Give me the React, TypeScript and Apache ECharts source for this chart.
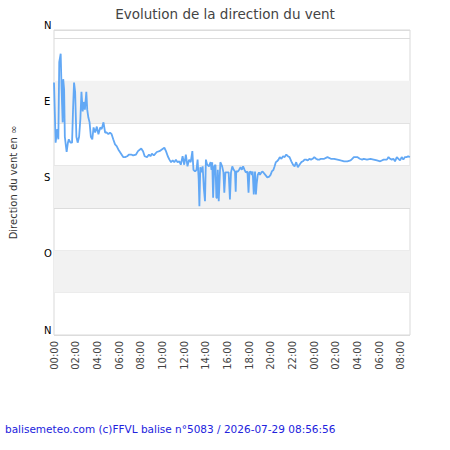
import React, { useEffect, useRef } from "react";
import * as echarts from "echarts";

// Minutes since 00:00 on the first day, and wind direction in degrees
const minutesSinceStart = [
  0, 9, 18, 24, 29, 37, 42, 48, 51, 56, 60, 66, 70, 77, 82, 91, 100, 106, 111, 117,
  124, 131, 139, 146, 152, 159, 164, 171, 179, 184, 190, 197, 204, 212, 219, 228, 237, 246, 256, 264,
  274, 283, 292, 301, 310, 319, 328, 338, 347, 356, 365, 374, 383, 394, 405, 416, 427, 438, 454, 465,
  476, 483, 493, 502, 515, 526, 534, 542, 553, 569, 584, 597, 611, 620, 630, 639, 648, 657, 666, 675,
  684, 694, 702, 712, 721, 730, 739, 748, 757, 766, 772, 781, 789, 795, 801, 805, 810, 817, 823, 830,
  836, 841, 848, 858, 867, 872, 876, 881, 887, 894, 899, 903, 907, 912, 921, 931, 938, 943, 949, 958,
  967, 974, 980, 987, 995, 1002, 1006, 1009, 1018, 1025, 1033, 1040, 1047, 1055, 1062, 1071, 1077, 1082, 1089, 1095,
  1100, 1106, 1113, 1118, 1122, 1128, 1135, 1140, 1149, 1155, 1170, 1181, 1192, 1199, 1206, 1215, 1221, 1228, 1235, 1243,
  1250, 1259, 1268, 1277, 1286, 1295, 1304, 1314, 1323, 1332, 1341, 1350, 1359, 1369, 1378, 1387, 1396, 1405, 1414, 1423,
  1432, 1441, 1451, 1460, 1469, 1478, 1496, 1514, 1533, 1551, 1569, 1587, 1606, 1624, 1642, 1651, 1660, 1679, 1693, 1706,
  1715, 1733, 1752, 1770, 1788, 1806, 1815, 1825, 1843, 1852, 1861, 1870, 1879, 1888, 1898, 1907, 1916, 1925, 1934, 1943,
  1952, 1961, 1970,
];

const directionDeg = [
  298, 227, 243, 231, 322, 332, 290, 251, 302, 290, 234, 223, 216, 227, 231, 227, 227, 270, 298, 287,
  234, 227, 234, 255, 287, 264, 275, 266, 287, 266, 257, 251, 234, 231, 245, 239, 246, 237, 245, 243,
  251, 239, 239, 237, 239, 237, 231, 225, 223, 219, 216, 213, 210, 210, 211, 213, 213, 212, 213, 217,
  219, 220, 217, 211, 210, 213, 211, 214, 212, 216, 217, 219, 221, 217, 211, 207, 204, 206, 204, 207,
  204, 205, 201, 211, 201, 213, 199, 207, 204, 217, 195, 193, 195, 207, 184, 152, 198, 192, 199, 172,
  158, 207, 201, 199, 204, 195, 204, 162, 199, 201, 162, 162, 195, 158, 204, 199, 192, 168, 192, 192,
  192, 160, 192, 199, 195, 193, 169, 193, 193, 195, 198, 195, 199, 195, 192, 193, 168, 192, 193, 189,
  193, 166, 193, 166, 178, 189, 192, 189, 192, 193, 189, 186, 187, 189, 193, 195, 199, 204, 205, 207,
  210, 208, 211, 210, 213, 211, 210, 205, 201, 199, 204, 198, 201, 204, 205, 207, 207, 206, 208, 207,
  208, 210, 208, 207, 207, 208, 208, 210, 208, 208, 207, 206, 205, 205, 206, 208, 210, 210, 208, 207,
  208, 207, 208, 207, 206, 205, 206, 207, 207, 210, 208, 207, 208, 205, 210, 208, 206, 210, 207, 210,
  210, 211, 210,
];

// Compass labels for the direction axis
const compassValues = [0, 90, 180, 270, 360];
const compassLabels = ["N", "O", "S", "E", "N"];

// Shaded horizontal bands (degrees)
const shadedBands = [
  [50, 100],
  [150, 200],
  [250, 300],
];

const xMaxMinutes = 1971;

const pad2 = (n: number) => (n < 10 ? "0" + n : String(n));

export default function App() {
  const ref = useRef<HTMLDivElement>(null);

  useEffect(() => {
    if (!ref.current) return;
    const chart = echarts.init(ref.current, undefined, { renderer: "svg" });
    const font = "'DejaVu Sans', sans-serif";
    const seriesData = minutesSinceStart.map((m, i) => [m, directionDeg[i]]);

    chart.setOption({
      animation: false,
      backgroundColor: "#ffffff",
      title: {
        text: "Evolution de la direction du vent",
        left: "center",
        top: 2,
        textStyle: {
          fontFamily: font,
          fontSize: 13.5,
          fontWeight: "normal",
          color: "#444444",
        },
      },
      grid: {
        left: 50,
        right: 40,
        top: 30,
        bottom: 115,
        show: true,
        borderColor: "#d9d9d9",
        borderWidth: 1,
        backgroundColor: "transparent",
      },
      xAxis: {
        type: "value",
        min: 0,
        max: xMaxMinutes,
        interval: 120,
        axisLine: { show: false },
        axisTick: { show: false },
        splitLine: { show: false },
        axisLabel: {
          rotate: 90,
          margin: 6,
          padding: [6, 0, 0, 0],
          showMaxLabel: false,
          fontFamily: font,
          fontSize: 10,
          color: "#444444",
          formatter: (v: number) => pad2(Math.floor(v / 60) % 24) + ":00",
        },
      },
      yAxis: [
        {
          type: "value",
          min: 0,
          max: 360,
          interval: 50,
          name: "Direction du vent en ∞",
          nameLocation: "middle",
          nameGap: 36,
          nameTextStyle: { fontFamily: font, fontSize: 10, color: "#333333" },
          axisLine: { show: false },
          axisTick: { show: false },
          axisLabel: { show: false },
          splitLine: { show: true, lineStyle: { color: "#dcdcdc", width: 1 } },
        },
        {
          type: "value",
          position: "left",
          min: 0,
          max: 360,
          interval: 90,
          axisLine: { show: false },
          axisTick: { show: false },
          splitLine: { show: false },
          axisLabel: {
            align: "left",
            verticalAlign: "bottom",
            margin: 10,
            fontFamily: font,
            fontSize: 10,
            color: "#000000",
            formatter: (v: number) => {
              const idx = compassValues.indexOf(v);
              return idx >= 0 ? compassLabels[idx] : "";
            },
          },
        },
      ],
      series: [
        {
          type: "line",
          z: -1,
          data: [[0, null]],
          silent: true,
          markArea: {
            silent: true,
            itemStyle: { color: "#f2f2f2" },
            data: shadedBands.map(([a, b]) => [{ yAxis: a }, { yAxis: b }]),
          },
        },
        {
          type: "line",
          data: seriesData,
          showSymbol: false,
          lineStyle: { color: "#62a8f5", width: 1.8 },
          itemStyle: { color: "#62a8f5" },
        },
      ],
      graphic: [
        {
          type: "text",
          left: 5,
          top: 423,
          style: {
            text: "balisemeteo.com (c)FFVL balise n°5083 / 2026-07-29 08:56:56",
            font: "10.5px 'DejaVu Sans', sans-serif",
            fill: "#2222dd",
          },
        },
      ],
    });

    return () => chart.dispose();
  }, []);

  return <div ref={ref} style={{ width: 450, height: 450, position: "absolute", left: 0, top: 0 }} />;
}
